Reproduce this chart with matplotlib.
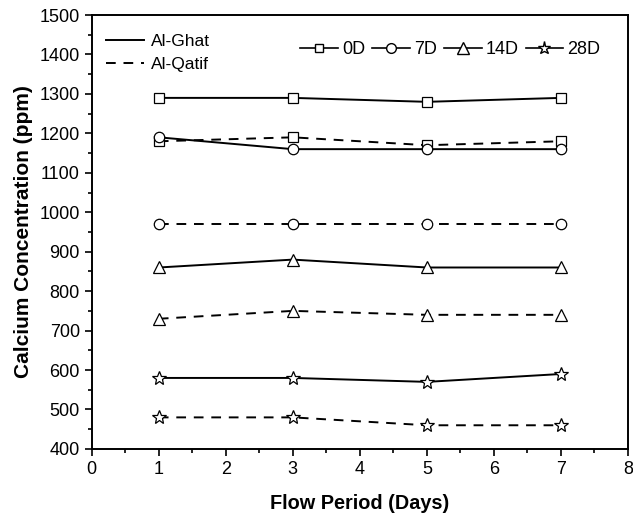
import matplotlib.pyplot as plt
from matplotlib.lines import Line2D
from matplotlib.ticker import MultipleLocator

plt.rcParams["font.family"] = ["Liberation Sans", "DejaVu Sans"]

days = [1, 3, 5, 7]
labels = ["0D", "7D", "14D", "28D"]
markers = ["s", "o", "^", "*"]

ghat = {
    "0D": [1290, 1290, 1280, 1290],
    "7D": [1190, 1160, 1160, 1160],
    "14D": [860, 880, 860, 860],
    "28D": [580, 580, 570, 590],
}
qatif = {
    "0D": [1180, 1190, 1170, 1180],
    "7D": [970, 970, 970, 970],
    "14D": [730, 750, 740, 740],
    "28D": [480, 480, 460, 460],
}

fig = plt.figure(figsize=(6.33, 5.19), dpi=100)
ax = fig.add_axes([0.145, 0.135, 0.847, 0.836])

msizes = {"s": 6.5, "o": 7.5, "^": 9, "*": 10}
for lab, m in zip(labels, markers):
    ax.plot(days, ghat[lab], "-", color="black", lw=1.4, marker=m, ms=msizes[m],
            mfc="white", mec="black", mew=0.9)
    ax.plot(days, qatif[lab], "--", color="black", lw=1.4, marker=m, ms=msizes[m],
            mfc="white", mec="black", mew=0.9, dashes=(5, 4))

ax.set_xlim(0, 8)
ax.set_ylim(400, 1500)
ax.xaxis.set_major_locator(MultipleLocator(1))
ax.xaxis.set_minor_locator(MultipleLocator(0.5))
ax.yaxis.set_major_locator(MultipleLocator(100))
ax.yaxis.set_minor_locator(MultipleLocator(50))
ax.tick_params(which="both", direction="out", top=False, right=False, labelsize=13)
ax.tick_params(which="major", length=5, width=1.2)
ax.tick_params(which="minor", length=3, width=1.2)
for sp in ax.spines.values():
    sp.set_linewidth(1.4)

ax.set_xlabel("Flow Period (Days)", fontsize=14.3, fontweight="bold", labelpad=12)
ax.set_ylabel("Calcium Concentration (ppm)", fontsize=15, fontweight="bold", labelpad=5)

style_handles = [
    Line2D([], [], color="black", lw=1.4, ls="-"),
    Line2D([], [], color="black", lw=1.4, ls="--", dashes=(5, 4)),
]
leg1 = ax.legend(style_handles, ["Al-Ghat", "Al-Qatif"], loc="upper left",
                 bbox_to_anchor=(0.026, 0.956), frameon=False, fontsize=12.5,
                 handlelength=2.2, handletextpad=0.4, labelspacing=0.45,
                 borderaxespad=0, borderpad=0)
ax.add_artist(leg1)

marker_handles = [
    Line2D([], [], color="black", lw=1.2, marker=m, ms=msizes[m] - 0.5, mfc="white", mec="black")
    for m in markers
]
ax.legend(marker_handles, labels, loc="center right", bbox_to_anchor=(0.948, 0.92), ncol=4,
          frameon=False, fontsize=13, handlelength=2.1, handletextpad=0.2,
          columnspacing=0.4, borderaxespad=0, borderpad=0)

fig.savefig("out.png", dpi=100)
